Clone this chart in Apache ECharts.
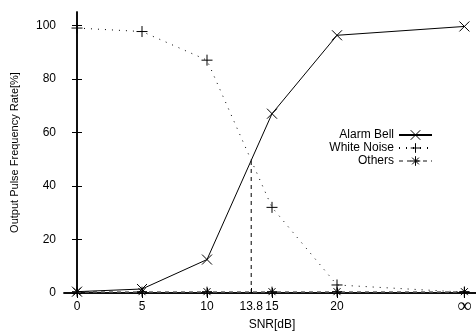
<!DOCTYPE html>
<html>
<head>
<meta charset="utf-8">
<script src="https://cdn.jsdelivr.net/npm/echarts@6/dist/echarts.min.js"></script>
<style>
  html, body { margin: 0; padding: 0; background: #fff; overflow: hidden; }
  #myChart { width: 480px; height: 334px; }
</style>
</head>
<body>
<div id="myChart"></div>
<script>
// SNR positions on the plot (infinity sits at the right end)
const snr = [0, 5, 10, 15, 20, 29.8]
const xTickPos = [0, 5, 10, 13.4, 15, 20, 29.8]
const xTickText = ['0', '5', '10', '13.8', '15', '20', '∞']
const topTicks = [0, 5, 10, 15, 20, 29.8]
const yTicks = [0, 20, 40, 60, 80, 100]

const alarmBell = [0.5, 1.5, 12.5, 67, 96.3, 99.6]
const whiteNoise = [99, 97.7, 87, 32, 3, 0.3]
const others = [0.5, 0.5, 0.5, 0.5, 0.5, 0.5]

// crossing point marked with the vertical dashed line
const crossX = 13.4
const crossY = 50

const pair = (xs, ys) => xs.map((x, i) => [x, ys[i]])

const chart = echarts.init(document.getElementById('myChart'))

const crossSym = 'path://M0,0L10,10M10,0L0,10'
const plusSym = 'path://M5,0L5,10M0,5L10,5'
const starSym = 'path://M5,0L5,10M0,5L10,5M1.5,1.5L8.5,8.5M8.5,1.5L1.5,8.5'

const fmtX = v => {
  const i = xTickPos.indexOf(v)
  const t = i >= 0 ? xTickText[i] : String(v)
  return t === '∞' ? '{inf|∞}' : t
}

const options = {
  animation: false,
  textStyle: { fontFamily: 'Liberation Sans, Arial, sans-serif' },
  grid: { left: 64, right: 0, top: 12, bottom: 41, outerBoundsMode: 'none', containLabel: false },
  legend: {
    orient: 'vertical',
    align: 'right',
    right: 42,
    top: 124,
    itemWidth: 33,
    itemHeight: 12,
    itemGap: 1,
    itemStyle: { borderWidth: 1 },
    textStyle: { fontSize: 12, color: '#000', lineHeight: 12 },
    data: ['Alarm Bell', 'White Noise', 'Others']
  },
  xAxis: [
    {
      type: 'value', min: -1, max: 31, position: 'bottom',
      name: 'SNR[dB]', nameLocation: 'middle', nameGap: 26, nameMoveOverlap: false,
      nameTextStyle: { fontSize: 12, color: '#000' },
      axisLine: { lineStyle: { color: '#000', width: 1.5 } },
      axisTick: { inside: true, length: 5, customValues: xTickPos, lineStyle: { color: '#000' } },
      axisLabel: {
        customValues: xTickPos, formatter: fmtX, fontSize: 12, color: '#000', margin: 8,
        rich: { inf: { fontSize: 20, fontFamily: 'DejaVu Sans', fontWeight: 200, color: '#000', lineHeight: 12 } }
      },
      splitLine: { show: false }
    },
    {
      type: 'value', min: -1, max: 31, position: 'top',
      axisLine: { lineStyle: { color: '#000', width: 1.5 } },
      axisTick: { inside: true, length: 5, customValues: topTicks, lineStyle: { color: '#000' } },
      axisLabel: { show: false },
      splitLine: { show: false }
    }
  ],
  yAxis: [
    {
      type: 'value', min: 0, max: 105, position: 'left',
      name: 'Output Pulse Frequency Rate[%]', nameLocation: 'middle', nameGap: 44,
      nameTextStyle: { fontSize: 11, color: '#000' },
      axisLine: { show: true, lineStyle: { color: '#000', width: 1.5 } },
      axisTick: { show: true, inside: true, length: 5, customValues: yTicks, lineStyle: { color: '#000' } },
      axisLabel: { customValues: yTicks, fontSize: 12, color: '#000', margin: 8 },
      splitLine: { show: false }
    },
    {
      type: 'value', min: 0, max: 105, position: 'right',
      axisLine: { show: true, lineStyle: { color: '#000', width: 1.5 } },
      axisTick: { show: true, inside: true, length: 5, customValues: yTicks, lineStyle: { color: '#000' } },
      axisLabel: { show: false },
      splitLine: { show: false }
    }
  ],
  series: [
    {
      name: 'Alarm Bell', type: 'line', data: pair(snr, alarmBell),
      symbol: crossSym, symbolSize: 10,
      itemStyle: { color: '#000', borderColor: '#000', borderWidth: 1 },
      lineStyle: { color: '#000', width: 1, type: 'solid' },
      z: 4
    },
    {
      name: 'White Noise', type: 'line', data: pair(snr, whiteNoise),
      symbol: plusSym, symbolSize: 11,
      itemStyle: { color: '#000', borderColor: '#000', borderWidth: 1 },
      lineStyle: { color: '#000', width: 1, type: [1, 6] },
      z: 3
    },
    {
      name: 'Others', type: 'line', data: pair(snr, others),
      symbol: starSym, symbolSize: 10,
      itemStyle: { color: '#000', borderColor: '#000', borderWidth: 1 },
      lineStyle: { color: '#888', width: 1.5, type: [4, 4] },
      z: 2
    },
    {
      name: 'cross', type: 'line', data: [[crossX, 0], [crossX, crossY]],
      symbol: 'none', silent: true,
      lineStyle: { color: '#000', width: 1, type: [4, 4] },
      z: 1
    }
  ]
}

chart.setOption(options)
</script>
</body>
</html>
